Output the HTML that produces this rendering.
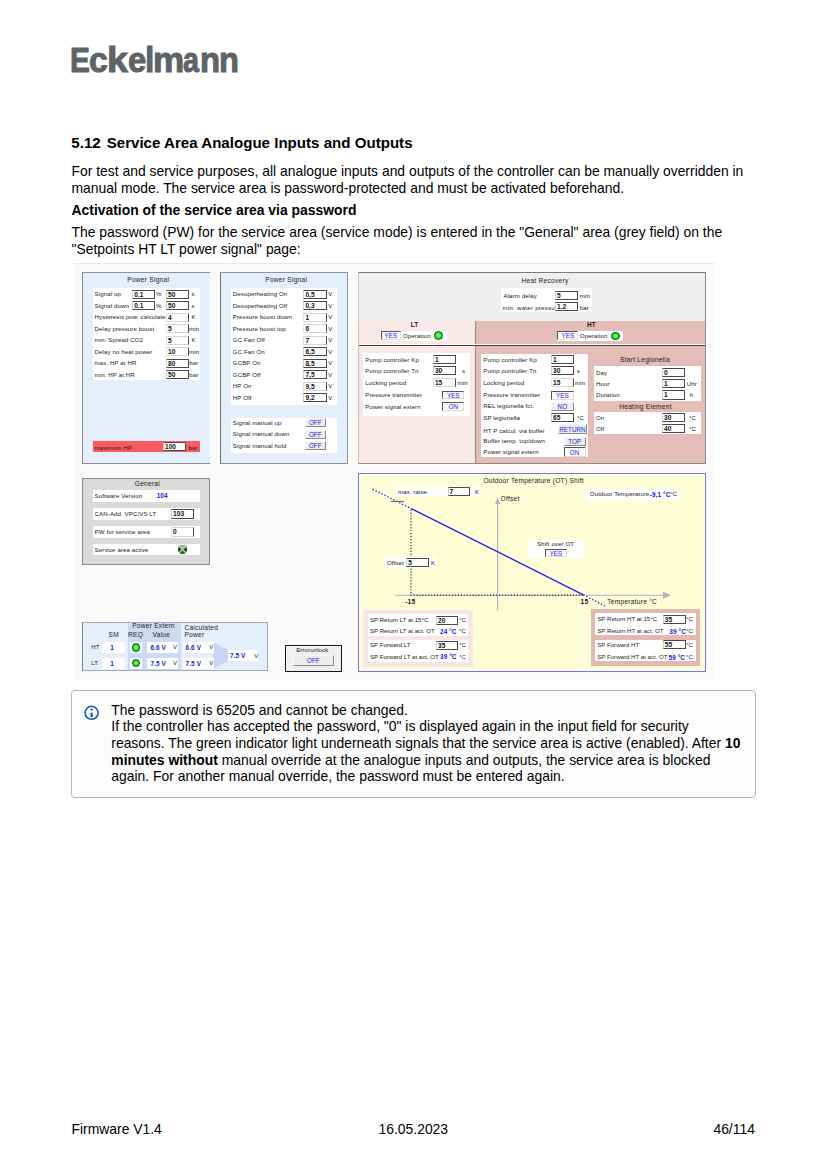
<!DOCTYPE html>
<html><head><meta charset="utf-8"><title>Service Area Analogue Inputs and Outputs</title>
<style>
*{margin:0;padding:0;box-sizing:border-box}
html,body{width:827px;height:1169px;background:#fff;overflow:hidden}
body{position:relative;font-family:"Liberation Sans",sans-serif;color:#000}
.p{position:absolute;white-space:nowrap;line-height:1;color:#000}
.t{position:absolute;white-space:nowrap;line-height:1;color:#1a1a1a;letter-spacing:0.1px}
.tt{letter-spacing:0.25px}
.b{position:absolute}
.inp{position:absolute;background:#fff;border-top:1px solid #d6d6d6;border-left:1px solid #e2e2e2;border-right:1px solid #4a4a4a;border-bottom:1px solid #d6d6d6;font-size:6.6px;font-weight:bold;line-height:1;padding:1px 0 0 1px;white-space:nowrap;overflow:hidden}
.inp.d{border-top:1px solid #4a4a4a;border-left:1px solid #cfcfcf;border-right:1px solid #4a4a4a;border-bottom:1px solid #4a4a4a}
.btn{position:absolute;background:#ececec;border-top:1px solid #f8f8f8;border-left:1px solid #f8f8f8;border-right:1px solid #888;border-bottom:1px solid #888;font-size:6.3px;color:#1c1cf0;text-align:center;line-height:1;padding-top:1.3px;white-space:nowrap;overflow:hidden}
.btn.pr{background:#fafafa;border-top:1px solid #555;border-left:1px solid #555;border-right:1px solid #ddd;border-bottom:1px solid #ddd}
.led{position:absolute;border-radius:50%;background:radial-gradient(circle at 50% 50%,#a9efa0 0,#3ef03e 38%,#12e412 62%,#0cc00c 80%,#0a7a0a 100%);border:0.8px solid #0b520b}
</style></head><body>

<div class="p" style="left:69.51px;top:43.01px;font-size:35.9px;font-weight:bold;color:#5e6367;-webkit-text-stroke:1.0px #5e6367;transform-origin:0 0;transform:scaleX(0.8292)">E</div>
<div class="p" style="left:89.49px;top:43.01px;font-size:35.9px;font-weight:bold;color:#5e6367;-webkit-text-stroke:1.0px #5e6367;transform-origin:0 0;transform:scaleX(0.9361)">c</div>
<div class="p" style="left:106.97px;top:43.01px;font-size:35.9px;font-weight:bold;color:#5e6367;-webkit-text-stroke:1.0px #5e6367;transform-origin:0 0;transform:scaleX(1.0467)">k</div>
<div class="p" style="left:127.92px;top:43.01px;font-size:35.9px;font-weight:bold;color:#5e6367;-webkit-text-stroke:1.0px #5e6367;transform-origin:0 0;transform:scaleX(0.9112)">e</div>
<div class="p" style="left:145.15px;top:43.01px;font-size:35.9px;font-weight:bold;color:#5e6367;-webkit-text-stroke:1.0px #5e6367;transform-origin:0 0;transform:scaleX(0.9353)">l</div>
<div class="p" style="left:153.08px;top:43.01px;font-size:35.9px;font-weight:bold;color:#5e6367;-webkit-text-stroke:1.0px #5e6367;transform-origin:0 0;transform:scaleX(0.9773)">m</div>
<div class="p" style="left:182.87px;top:43.01px;font-size:35.9px;font-weight:bold;color:#5e6367;-webkit-text-stroke:1.0px #5e6367;transform-origin:0 0;transform:scaleX(0.7996)">a</div>
<div class="p" style="left:200.03px;top:43.01px;font-size:35.9px;font-weight:bold;color:#5e6367;-webkit-text-stroke:1.0px #5e6367;transform-origin:0 0;transform:scaleX(0.9170)">n</div>
<div class="p" style="left:218.54px;top:43.01px;font-size:35.9px;font-weight:bold;color:#5e6367;-webkit-text-stroke:1.0px #5e6367;transform-origin:0 0;transform:scaleX(0.9112)">n</div>
<div class="p" style="left:71.3px;top:134.62px;font-size:15.1px;font-weight:bold;">5.12</div>
<div class="p" style="left:106.7px;top:134.62px;font-size:15.1px;font-weight:bold;">Service Area Analogue Inputs and Outputs</div>
<div class="p" style="left:71.5px;top:165.03px;font-size:13.9px;">For test and service purposes, all analogue inputs and outputs of the controller can be manually overridden in</div>
<div class="p" style="left:71.5px;top:181.63px;font-size:13.9px;">manual mode. The service area is password-protected and must be activated beforehand.</div>
<div class="p" style="left:71.5px;top:204.03px;font-size:13.9px;font-weight:bold;">Activation of the service area via password</div>
<div class="p" style="left:71.5px;top:226.23px;font-size:13.9px;">The password (PW) for the service area (service mode) is entered in the "General" area (grey field) on the</div>
<div class="p" style="left:71.5px;top:242.83px;font-size:13.9px;">"Setpoints HT LT power signal" page:</div>
<div class="b" style="left:73.0px;top:263.0px;width:641.0px;height:418.0px;background:#fafafa;border-top:1px solid #e8e8e8"></div>
<div class="b" style="left:82.0px;top:272.0px;width:128.0px;height:191.5px;background:#e5effb;border-left:1px solid #7f8894;border-top:1px solid #8a929c;border-bottom:1px solid #8a8a8a"></div>
<div class="t tt" style="left:148.2px;top:277.01px;font-size:6.6px;transform:translateX(-50%);">Power Signal</div>
<div class="b" style="left:93.0px;top:288.0px;width:106.5px;height:92.0px;background:#fff;"></div>
<div class="t" style="left:94.6px;top:291.24px;font-size:6.1px;">Signal up</div>
<div class="inp d" style="left:132.2px;top:289.5px;width:22.4px;height:9.0px;color:#111">0.1</div>
<div class="t" style="left:156.0px;top:291.24px;font-size:6.1px;">%</div>
<div class="inp d" style="left:166.0px;top:289.5px;width:23.0px;height:9.0px;color:#111">50</div>
<div class="t" style="left:191.4px;top:291.24px;font-size:6.1px;">s</div>
<div class="t" style="left:94.6px;top:302.74px;font-size:6.1px;">Signal down</div>
<div class="inp d" style="left:132.2px;top:301.0px;width:22.4px;height:9.0px;color:#111">0.1</div>
<div class="t" style="left:156.0px;top:302.74px;font-size:6.1px;">%</div>
<div class="inp d" style="left:166.0px;top:301.0px;width:23.0px;height:9.0px;color:#111">50</div>
<div class="t" style="left:191.4px;top:302.74px;font-size:6.1px;">s</div>
<div class="t" style="left:94.6px;top:314.24px;font-size:6.1px;">Hysteresis pow. calculate</div>
<div class="inp" style="left:166.0px;top:312.5px;width:23.0px;height:9.0px;color:#111">4</div>
<div class="t" style="left:191.4px;top:314.24px;font-size:6.1px;">K</div>
<div class="t" style="left:94.6px;top:325.74px;font-size:6.1px;">Delay pressure boost</div>
<div class="inp" style="left:166.0px;top:324.0px;width:23.0px;height:9.0px;color:#111">5</div>
<div class="t" style="left:189.2px;top:325.74px;font-size:6.1px;">min</div>
<div class="t" style="left:94.6px;top:337.24px;font-size:6.1px;">min. Spread CO2</div>
<div class="inp" style="left:166.0px;top:335.5px;width:23.0px;height:9.0px;color:#111">5</div>
<div class="t" style="left:191.4px;top:337.24px;font-size:6.1px;">K</div>
<div class="t" style="left:94.6px;top:348.74px;font-size:6.1px;">Delay no heat power</div>
<div class="inp" style="left:166.0px;top:347.0px;width:23.0px;height:9.0px;color:#111">10</div>
<div class="t" style="left:189.2px;top:348.74px;font-size:6.1px;">min</div>
<div class="t" style="left:94.6px;top:360.24px;font-size:6.1px;">max. HP at HR</div>
<div class="inp d" style="left:166.0px;top:358.5px;width:23.0px;height:9.0px;color:#111">80</div>
<div class="t" style="left:189.2px;top:360.24px;font-size:6.1px;">bar</div>
<div class="t" style="left:94.6px;top:371.74px;font-size:6.1px;">min. HP at HR</div>
<div class="inp d" style="left:166.0px;top:370.0px;width:23.0px;height:9.0px;color:#111">50</div>
<div class="t" style="left:189.2px;top:371.74px;font-size:6.1px;">bar</div>
<div class="b" style="left:93.0px;top:441.3px;width:106.7px;height:10.5px;background:#f95b61;"></div>
<div class="t" style="left:94.6px;top:444.54px;font-size:6.1px;">maximum HP</div>
<div class="inp d" style="left:163.0px;top:442.0px;width:23.0px;height:9.0px;color:#111">100</div>
<div class="t" style="left:188.6px;top:444.54px;font-size:6.1px;">bar</div>
<div class="b" style="left:220.0px;top:272.0px;width:128.0px;height:191.5px;background:#e5effb;border-left:1px solid #6f7780;border-top:1px solid #8a929c;border-bottom:1px solid #8a8a8a;border-right:1px solid #8a96a5"></div>
<div class="t tt" style="left:286.2px;top:277.01px;font-size:6.6px;transform:translateX(-50%);">Power Signal</div>
<div class="b" style="left:231.0px;top:288.0px;width:106.0px;height:116.7px;background:#fff;"></div>
<div class="t" style="left:232.8px;top:291.34px;font-size:6.1px;">Desuperheating On</div>
<div class="inp d" style="left:303.4px;top:289.6px;width:23.3px;height:9.0px;color:#111">0,5</div>
<div class="t" style="left:328.2px;top:291.34px;font-size:6.1px;">V</div>
<div class="t" style="left:232.8px;top:302.84px;font-size:6.1px;">Desuperheating Off</div>
<div class="inp d" style="left:303.4px;top:301.1px;width:23.3px;height:9.0px;color:#111">0,3</div>
<div class="t" style="left:328.2px;top:302.84px;font-size:6.1px;">V</div>
<div class="t" style="left:232.8px;top:314.34px;font-size:6.1px;">Pressure boost down</div>
<div class="inp" style="left:303.4px;top:312.6px;width:23.3px;height:9.0px;color:#111">1</div>
<div class="t" style="left:328.2px;top:314.34px;font-size:6.1px;">V</div>
<div class="t" style="left:232.8px;top:325.84px;font-size:6.1px;">Pressure boost top</div>
<div class="inp" style="left:303.4px;top:324.1px;width:23.3px;height:9.0px;color:#111">6</div>
<div class="t" style="left:328.2px;top:325.84px;font-size:6.1px;">V</div>
<div class="t" style="left:232.8px;top:337.34px;font-size:6.1px;">GC Fan Off</div>
<div class="inp" style="left:303.4px;top:335.6px;width:23.3px;height:9.0px;color:#111">7</div>
<div class="t" style="left:328.2px;top:337.34px;font-size:6.1px;">V</div>
<div class="t" style="left:232.8px;top:348.84px;font-size:6.1px;">GC Fan On</div>
<div class="inp d" style="left:303.4px;top:347.1px;width:23.3px;height:9.0px;color:#111">6,5</div>
<div class="t" style="left:328.2px;top:348.84px;font-size:6.1px;">V</div>
<div class="t" style="left:232.8px;top:360.34px;font-size:6.1px;">GCBP On</div>
<div class="inp d" style="left:303.4px;top:358.6px;width:23.3px;height:9.0px;color:#111">8,5</div>
<div class="t" style="left:328.2px;top:360.34px;font-size:6.1px;">V</div>
<div class="t" style="left:232.8px;top:371.84px;font-size:6.1px;">GCBP Off</div>
<div class="inp d" style="left:303.4px;top:370.1px;width:23.3px;height:9.0px;color:#111">7,5</div>
<div class="t" style="left:328.2px;top:371.84px;font-size:6.1px;">V</div>
<div class="t" style="left:232.8px;top:383.34px;font-size:6.1px;">HP On</div>
<div class="inp" style="left:303.4px;top:381.6px;width:23.3px;height:9.0px;color:#111">9,5</div>
<div class="t" style="left:328.2px;top:383.34px;font-size:6.1px;">V</div>
<div class="t" style="left:232.8px;top:394.84px;font-size:6.1px;">HP Off</div>
<div class="inp d" style="left:303.4px;top:393.1px;width:23.3px;height:9.0px;color:#111">9,2</div>
<div class="t" style="left:328.2px;top:394.84px;font-size:6.1px;">V</div>
<div class="b" style="left:231.0px;top:417.8px;width:106.0px;height:35.1px;background:#fff;"></div>
<div class="t" style="left:232.8px;top:419.94px;font-size:6.1px;">Signal manual up</div>
<div class="btn" style="left:304.9px;top:418.2px;width:20.7px;height:9.2px">OFF</div>
<div class="t" style="left:232.8px;top:431.44px;font-size:6.1px;">Signal manual down</div>
<div class="btn" style="left:304.9px;top:429.7px;width:20.7px;height:9.2px">OFF</div>
<div class="t" style="left:232.8px;top:442.94px;font-size:6.1px;">Signal manual hold</div>
<div class="btn" style="left:304.9px;top:441.2px;width:20.7px;height:9.2px">OFF</div>
<div class="b" style="left:358.0px;top:271.8px;width:348.0px;height:191.8px;background:#efefef;border:1px solid #8a8a8a;border-top-color:#7a7a7a;border-left-color:#c4c4c4"></div>
<div class="t tt" style="left:545.0px;top:277.51px;font-size:6.6px;transform:translateX(-50%);">Heat Recovery</div>
<div class="b" style="left:501.0px;top:288.3px;width:91.0px;height:24.1px;background:#fff;"></div>
<div class="t" style="left:503.5px;top:292.84px;font-size:6.1px;">Alarm delay</div>
<div class="t" style="left:502.6px;top:304.74px;font-size:6.1px;letter-spacing:0.25px">min. water pressure</div>
<div class="inp d" style="left:555.0px;top:291.2px;width:23.0px;height:9.0px;color:#111">5</div>
<div class="inp d" style="left:555.0px;top:302.2px;width:23.0px;height:9.0px;color:#111">1.2</div>
<div class="t" style="left:579.8px;top:292.84px;font-size:6.1px;">min</div>
<div class="t" style="left:579.8px;top:304.54px;font-size:6.1px;">bar</div>
<div class="b" style="left:358.5px;top:320.6px;width:116.8px;height:142.0px;background:#f8e8e8;"></div>
<div class="b" style="left:475.3px;top:320.6px;width:229.7px;height:142.0px;background:#e4bdb6;"></div>
<div class="b" style="left:475.0px;top:320.6px;width:1.0px;height:142.0px;background:#8a8a8a;"></div>
<div class="b" style="left:358.5px;top:344.3px;width:346.5px;height:0.6px;background:#ffffff;"></div>
<div class="b" style="left:358.5px;top:344.9px;width:346.5px;height:1.3px;background:#404040;"></div>
<div class="t" style="left:414.5px;top:321.98px;font-size:6.4px;font-weight:bold;transform:translateX(-50%);">LT</div>
<div class="t" style="left:591.3px;top:321.98px;font-size:6.4px;font-weight:bold;transform:translateX(-50%);">HT</div>
<div class="b" style="left:380.0px;top:331.0px;width:67.5px;height:9.5px;background:#fff;"></div>
<div class="btn pr" style="left:380.5px;top:331.2px;width:20.7px;height:9.2px">YES</div>
<div class="t" style="left:403.0px;top:332.64px;font-size:6.1px;">Operation</div>
<div class="led" style="left:434.2px;top:330.9px;width:8.9px;height:8.9px"></div>
<div class="b" style="left:557.0px;top:331.0px;width:66.0px;height:9.5px;background:#fff;"></div>
<div class="btn pr" style="left:557.4px;top:331.2px;width:20.8px;height:9.2px">YES</div>
<div class="t" style="left:579.8px;top:332.64px;font-size:6.1px;">Operation</div>
<div class="led" style="left:610.9px;top:331.5px;width:8.8px;height:8.8px"></div>
<div class="b" style="left:363.3px;top:353.3px;width:107.1px;height:62.4px;background:#fff;"></div>
<div class="t" style="left:365.3px;top:356.64px;font-size:6.1px;">Pump controller Kp</div>
<div class="inp d" style="left:432.9px;top:354.7px;width:22.7px;height:9.2px;color:#111">1</div>
<div class="t" style="left:365.3px;top:368.24px;font-size:6.1px;">Pump controller Tn</div>
<div class="inp d" style="left:432.9px;top:366.3px;width:22.7px;height:9.2px;color:#111">30</div>
<div class="t" style="left:462.0px;top:368.24px;font-size:6.1px;">s</div>
<div class="t" style="left:365.3px;top:379.94px;font-size:6.1px;">Locking period</div>
<div class="inp" style="left:432.9px;top:378.0px;width:22.7px;height:9.2px;color:#111">15</div>
<div class="t" style="left:457.5px;top:379.94px;font-size:6.1px;">min</div>
<div class="t" style="left:365.3px;top:392.34px;font-size:6.1px;">Pressure transmitter</div>
<div class="btn pr" style="left:442.2px;top:390.7px;width:22.1px;height:8.8px">YES</div>
<div class="t" style="left:365.3px;top:404.34px;font-size:6.1px;">Power signal extern</div>
<div class="btn pr" style="left:442.2px;top:402.2px;width:22.1px;height:9.2px">ON</div>
<div class="b" style="left:481.3px;top:353.5px;width:106.8px;height:103.5px;background:#fff;"></div>
<div class="t" style="left:483.3px;top:356.54px;font-size:6.1px;">Pump controller Kp</div>
<div class="t" style="left:483.3px;top:367.94px;font-size:6.1px;">Pump controller Tn</div>
<div class="t" style="left:483.3px;top:379.54px;font-size:6.1px;">Locking period</div>
<div class="t" style="left:483.3px;top:392.24px;font-size:6.1px;">Pressure transmitter</div>
<div class="t" style="left:483.3px;top:403.24px;font-size:6.1px;">REL legionella fct.</div>
<div class="t" style="left:483.3px;top:414.84px;font-size:6.1px;">SP legionella</div>
<div class="t" style="left:483.3px;top:427.54px;font-size:6.1px;">HT P calcul. via buffer</div>
<div class="t" style="left:483.3px;top:438.34px;font-size:6.1px;">Buffer temp. top/down</div>
<div class="t" style="left:483.3px;top:449.24px;font-size:6.1px;">Power signal extern</div>
<div class="inp d" style="left:551.0px;top:354.6px;width:23.0px;height:9.2px;color:#111">1</div>
<div class="inp d" style="left:551.0px;top:366.0px;width:23.0px;height:9.2px;color:#111">30</div>
<div class="t" style="left:576.7px;top:367.94px;font-size:6.1px;">s</div>
<div class="inp" style="left:551.0px;top:377.6px;width:23.0px;height:9.2px;color:#111">15</div>
<div class="t" style="left:575.0px;top:379.54px;font-size:6.1px;">min</div>
<div class="btn pr" style="left:551.1px;top:390.5px;width:22.5px;height:9.0px">YES</div>
<div class="btn" style="left:551.1px;top:402.1px;width:22.5px;height:9.0px">NO</div>
<div class="inp d" style="left:551.0px;top:413.3px;width:23.0px;height:9.1px;color:#111">65</div>
<div class="t" style="left:577.0px;top:414.84px;font-size:6.1px;">°C</div>
<div class="btn" style="left:558.3px;top:424.3px;width:28.3px;height:9.4px">RETURN</div>
<div class="btn" style="left:563.5px;top:437.0px;width:22.2px;height:9.0px">TOP</div>
<div class="btn pr" style="left:563.5px;top:447.4px;width:22.2px;height:9.6px">ON</div>
<div class="t tt" style="left:645.0px;top:357.01px;font-size:6.6px;transform:translateX(-50%);">Start Legionella</div>
<div class="b" style="left:593.8px;top:366.3px;width:107.1px;height:34.7px;background:#fff;"></div>
<div class="t" style="left:596.0px;top:369.64px;font-size:6.1px;">Day</div>
<div class="inp d" style="left:662.0px;top:367.7px;width:22.7px;height:9.2px;color:#111">0</div>
<div class="t" style="left:596.0px;top:380.94px;font-size:6.1px;">Hour</div>
<div class="inp d" style="left:662.0px;top:379.0px;width:22.7px;height:9.2px;color:#111">1</div>
<div class="t" style="left:686.7px;top:380.94px;font-size:6.1px;">Uhr</div>
<div class="t" style="left:596.0px;top:392.34px;font-size:6.1px;">Duration</div>
<div class="inp d" style="left:662.0px;top:390.4px;width:22.7px;height:9.2px;color:#111">1</div>
<div class="t" style="left:689.5px;top:392.34px;font-size:6.1px;">h</div>
<div class="t tt" style="left:645.5px;top:403.71px;font-size:6.6px;transform:translateX(-50%);">Heating Element</div>
<div class="b" style="left:593.8px;top:411.8px;width:107.1px;height:22.7px;background:#fff;"></div>
<div class="t" style="left:596.0px;top:414.84px;font-size:6.1px;">On</div>
<div class="inp d" style="left:662.0px;top:412.9px;width:22.7px;height:9.2px;color:#111">30</div>
<div class="t" style="left:689.0px;top:414.84px;font-size:6.1px;">°C</div>
<div class="t" style="left:596.0px;top:425.84px;font-size:6.1px;">Off</div>
<div class="inp d" style="left:662.0px;top:423.9px;width:22.7px;height:9.2px;color:#111">40</div>
<div class="t" style="left:689.0px;top:425.84px;font-size:6.1px;">°C</div>
<div class="b" style="left:82.2px;top:478.4px;width:127.5px;height:86.4px;background:#dadada;border:1px solid #8a8a8a"></div>
<div class="t tt" style="left:147.4px;top:481.11px;font-size:6.6px;transform:translateX(-50%);">General</div>
<div class="b" style="left:92.9px;top:490.3px;width:107.0px;height:11.8px;background:#fff;"></div>
<div class="b" style="left:92.9px;top:508.1px;width:107.0px;height:11.6px;background:#fff;"></div>
<div class="b" style="left:92.9px;top:526.2px;width:107.0px;height:11.5px;background:#fff;"></div>
<div class="b" style="left:92.9px;top:544.0px;width:107.0px;height:11.3px;background:#fff;"></div>
<div class="t" style="left:94.6px;top:493.24px;font-size:6.1px;">Software Version</div>
<div class="t" style="left:156.7px;top:493.28px;font-size:6.4px;color:#1515e0;font-weight:bold;">104</div>
<div class="t" style="left:94.6px;top:511.04px;font-size:6.1px;">CAN-Add. VPC/VS LT</div>
<div class="inp d" style="left:171.1px;top:509.2px;width:22.9px;height:9.4px;color:#111">103</div>
<div class="t" style="left:94.6px;top:529.14px;font-size:6.1px;">PW for service area</div>
<div class="inp" style="left:171.1px;top:527.2px;width:22.9px;height:9.4px;color:#111">0</div>
<div class="t" style="left:94.6px;top:546.94px;font-size:6.1px;">Service area active</div>
<svg style="position:absolute;left:177px;top:544.1px" width="11" height="11" viewBox="0 0 11 11"><circle cx="5.5" cy="5.5" r="4.6" fill="#0c5c0c"/><path d="M5.5 5.5L2.3 2.3A4.6 4.6 0 0 1 8.7 2.3Z" fill="#8ccc8c"/><path d="M5.5 5.5L8.7 8.7A4.6 4.6 0 0 1 2.3 8.7Z" fill="#0f7a12"/><path d="M2.2 2.2L8.8 8.8M8.8 2.2L2.2 8.8" stroke="#c9c9c9" stroke-width="1.3"/></svg>
<div class="b" style="left:82.4px;top:621.5px;width:185.9px;height:49.6px;background:#e5effb;border:1px solid #a0aab8;border-left-color:#7c8490"></div>
<div class="b" style="left:127.6px;top:622.5px;width:53.2px;height:47.6px;background:#ccdbf4;"></div>
<div class="t tt" style="left:153.5px;top:622.81px;font-size:6.6px;transform:translateX(-50%);">Power Extern</div>
<div class="t tt" style="left:113.8px;top:632.11px;font-size:6.6px;transform:translateX(-50%);">SM</div>
<div class="t tt" style="left:135.6px;top:632.11px;font-size:6.6px;transform:translateX(-50%);">REQ</div>
<div class="t tt" style="left:161.4px;top:632.11px;font-size:6.6px;transform:translateX(-50%);">Value</div>
<div class="t tt" style="left:184.4px;top:625.41px;font-size:6.6px;">Calculated</div>
<div class="t tt" style="left:184.4px;top:631.91px;font-size:6.6px;">Power</div>
<svg style="position:absolute;left:213px;top:641px" width="16" height="29" viewBox="0 0 16 29"><polygon points="0,1 15,9 15,20 0,28" fill="#c6d6f3"/></svg>
<div class="t" style="left:91.3px;top:643.54px;font-size:6.1px;">HT</div>
<div class="b" style="left:101.7px;top:642.1px;width:23.0px;height:10.9px;background:#fff;"></div>
<div class="t" style="left:112.0px;top:645.08px;font-size:6.4px;color:#1515e0;font-weight:bold;transform:translateX(-50%);">1</div>
<div class="b" style="left:129.5px;top:642.1px;width:12.6px;height:10.9px;background:#fff;"></div>
<div class="led" style="left:131.7px;top:643.3px;width:8.4px;height:8.4px"></div>
<div class="b" style="left:146.9px;top:642.1px;width:31.0px;height:10.9px;background:#fff;"></div>
<div class="t" style="left:150.4px;top:645.08px;font-size:6.4px;color:#1515e0;font-weight:bold;">6.6 V</div>
<div class="t" style="left:173.0px;top:643.54px;font-size:6.1px;">V</div>
<div class="b" style="left:182.7px;top:642.1px;width:31.2px;height:10.9px;background:#fff;"></div>
<div class="t" style="left:185.6px;top:645.08px;font-size:6.4px;color:#1515e0;font-weight:bold;">6.6 V</div>
<div class="t" style="left:209.2px;top:643.54px;font-size:6.1px;">V</div>
<div class="t" style="left:91.3px;top:659.74px;font-size:6.1px;">LT</div>
<div class="b" style="left:101.7px;top:658.0px;width:23.0px;height:10.7px;background:#fff;"></div>
<div class="t" style="left:112.0px;top:661.28px;font-size:6.4px;color:#1515e0;font-weight:bold;transform:translateX(-50%);">1</div>
<div class="b" style="left:129.5px;top:658.0px;width:12.6px;height:10.7px;background:#fff;"></div>
<div class="led" style="left:131.7px;top:659.1px;width:8.4px;height:8.4px"></div>
<div class="b" style="left:146.9px;top:658.0px;width:31.0px;height:10.7px;background:#fff;"></div>
<div class="t" style="left:150.4px;top:661.28px;font-size:6.4px;color:#1515e0;font-weight:bold;">7.5 V</div>
<div class="t" style="left:173.0px;top:659.74px;font-size:6.1px;">V</div>
<div class="b" style="left:182.7px;top:658.0px;width:31.2px;height:10.7px;background:#fff;"></div>
<div class="t" style="left:185.6px;top:661.28px;font-size:6.4px;color:#1515e0;font-weight:bold;">7.5 V</div>
<div class="t" style="left:209.2px;top:659.74px;font-size:6.1px;">V</div>
<div class="b" style="left:228.0px;top:650.0px;width:30.2px;height:11.0px;background:#fff;"></div>
<div class="t" style="left:229.9px;top:652.98px;font-size:6.4px;color:#1515e0;font-weight:bold;">7.5 V</div>
<div class="t" style="left:254.2px;top:652.74px;font-size:6.1px;">V</div>
<div class="b" style="left:285.1px;top:644.9px;width:57.2px;height:26.8px;background:#efefef;border:1.3px solid #151515;box-shadow:inset 1px 1px 0 #fff"></div>
<div class="t" style="left:312.3px;top:647.14px;font-size:6.1px;transform:translateX(-50%);">Errorunlock</div>
<div class="btn" style="left:293.0px;top:655.4px;width:40.8px;height:10.3px">OFF</div>
<div class="b" style="left:358.0px;top:473.4px;width:347.8px;height:198.6px;background:#fdfdd6;border:1px solid #7474f2"></div>
<div class="t tt" style="left:483.4px;top:477.61px;font-size:6.6px;">Outdoor Temperature (OT) Shift</div>
<svg style="position:absolute;left:0;top:0" width="827" height="1169" viewBox="0 0 827 1169">
<line x1="395" y1="595.2" x2="665" y2="595.2" stroke="#b2b2c4" stroke-width="1.1"/>
<polygon points="671,595.2 663,591.7 663,598.7" fill="#b0b0b8"/>
<line x1="497.6" y1="503" x2="497.6" y2="610" stroke="#b0b0c2" stroke-width="1.1"/>
<polygon points="497.6,497 495,504 500.2,504" fill="#b4b4c6"/>
<line x1="410.5" y1="595.2" x2="583" y2="595.2" stroke="#303030" stroke-width="1.2" stroke-dasharray="1.2 1.75"/>
<line x1="411" y1="509.5" x2="411" y2="595" stroke="#303030" stroke-width="1.2" stroke-dasharray="1.2 1.75"/>
<line x1="391" y1="501.4" x2="404" y2="501.4" stroke="#505050" stroke-width="0.9"/>
<line x1="372.6" y1="489.2" x2="411.3" y2="508.6" stroke="#2a2aee" stroke-width="1.3" stroke-dasharray="1.4 1.9"/>
<line x1="411.3" y1="508.6" x2="583.3" y2="594.8" stroke="#2222ee" stroke-width="1.3"/>
<line x1="583.3" y1="594.8" x2="605.5" y2="606.4" stroke="#2a2aee" stroke-width="1.3" stroke-dasharray="1.4 1.9"/>
</svg>
<div class="b" style="left:396.4px;top:486.5px;width:83.8px;height:9.8px;background:#fff;"></div>
<div class="t" style="left:398.0px;top:489.14px;font-size:6.1px;">max. raise</div>
<div class="inp d" style="left:447.5px;top:487.2px;width:22.9px;height:8.6px;color:#111">7</div>
<div class="t" style="left:475.0px;top:489.14px;font-size:6.1px;">K</div>
<div class="t tt" style="left:500.6px;top:496.31px;font-size:6.6px;">Offset</div>
<div class="b" style="left:586.2px;top:489.1px;width:93.6px;height:10.9px;background:#fff;"></div>
<div class="t" style="left:589.8px;top:491.34px;font-size:6.1px;">Outdoor Temperature</div>
<div class="t" style="left:649.7px;top:491.88px;font-size:6.4px;color:#1515e0;font-weight:bold;">-9,1 °C</div>
<div class="t" style="left:670.2px;top:491.34px;font-size:6.1px;">°C</div>
<div class="b" style="left:527.8px;top:539.8px;width:55.8px;height:18.5px;background:#fff;"></div>
<div class="t" style="left:555.5px;top:540.64px;font-size:6.1px;transform:translateX(-50%);">Shift over OT</div>
<div class="btn pr" style="left:545.2px;top:548.5px;width:21.4px;height:8.7px">YES</div>
<div class="b" style="left:385.2px;top:557.3px;width:50.8px;height:10.5px;background:#fff;"></div>
<div class="t" style="left:387.0px;top:559.94px;font-size:6.1px;">Offset</div>
<div class="inp d" style="left:406.3px;top:558.1px;width:22.5px;height:9.4px;color:#111">5</div>
<div class="t" style="left:430.9px;top:559.94px;font-size:6.1px;">K</div>
<div class="t tt" style="left:410.3px;top:599.11px;font-size:6.6px;font-weight:bold;transform:translateX(-50%);">-15</div>
<div class="t tt" style="left:584.4px;top:599.11px;font-size:6.6px;font-weight:bold;transform:translateX(-50%);">15</div>
<div class="t tt" style="left:607.3px;top:599.01px;font-size:6.6px;">Temperature °C</div>
<div class="b" style="left:363.3px;top:609.6px;width:109.9px;height:57.1px;background:#f6e6e6;"></div>
<div class="b" style="left:368.0px;top:614.4px;width:100.2px;height:21.8px;background:#fff;"></div>
<div class="b" style="left:368.0px;top:639.5px;width:100.2px;height:22.4px;background:#fff;"></div>
<div class="t" style="left:370.0px;top:616.74px;font-size:6.1px;letter-spacing:0">SP Return LT at 15°C</div>
<div class="inp d" style="left:436.0px;top:615.5px;width:22.4px;height:9.1px;color:#111">20</div>
<div class="t" style="left:458.9px;top:616.74px;font-size:6.1px;">°C</div>
<div class="t" style="left:370.0px;top:628.24px;font-size:6.1px;letter-spacing:0">SP Return LT at act. OT</div>
<div class="t" style="left:440.0px;top:628.98px;font-size:6.4px;color:#1515e0;font-weight:bold;">24 °C</div>
<div class="t" style="left:458.9px;top:628.24px;font-size:6.1px;">°C</div>
<div class="t" style="left:370.0px;top:642.44px;font-size:6.1px;letter-spacing:0">SP Forward LT</div>
<div class="inp d" style="left:436.0px;top:640.5px;width:22.4px;height:9.1px;color:#111">35</div>
<div class="t" style="left:458.9px;top:642.44px;font-size:6.1px;">°C</div>
<div class="t" style="left:370.0px;top:653.74px;font-size:6.1px;letter-spacing:0">SP Forward LT at act. OT</div>
<div class="t" style="left:440.0px;top:654.48px;font-size:6.4px;color:#1515e0;font-weight:bold;">39 °C</div>
<div class="t" style="left:458.9px;top:653.74px;font-size:6.1px;">°C</div>
<div class="b" style="left:591.0px;top:609.0px;width:108.8px;height:56.6px;background:#e2b8b0;"></div>
<div class="b" style="left:595.3px;top:613.3px;width:101.2px;height:21.8px;background:#fff;"></div>
<div class="b" style="left:595.3px;top:639.5px;width:101.2px;height:21.7px;background:#fff;"></div>
<div class="t" style="left:597.3px;top:616.34px;font-size:6.1px;letter-spacing:0">SP Return HT at 15°C</div>
<div class="inp d" style="left:662.8px;top:614.6px;width:22.8px;height:9.2px;color:#111">35</div>
<div class="t" style="left:685.9px;top:616.34px;font-size:6.1px;">°C</div>
<div class="t" style="left:597.3px;top:627.84px;font-size:6.1px;letter-spacing:0">SP Return HT at act. OT</div>
<div class="t" style="left:669.3px;top:628.58px;font-size:6.4px;color:#1515e0;font-weight:bold;">39 °C</div>
<div class="t" style="left:685.9px;top:627.84px;font-size:6.1px;">°C</div>
<div class="t" style="left:597.3px;top:642.34px;font-size:6.1px;letter-spacing:0">SP Forward HT</div>
<div class="inp d" style="left:662.8px;top:640.3px;width:22.8px;height:9.2px;color:#111">55</div>
<div class="t" style="left:685.9px;top:642.34px;font-size:6.1px;">°C</div>
<div class="t" style="left:597.3px;top:653.84px;font-size:6.1px;letter-spacing:0">SP Forward HT at act. OT</div>
<div class="t" style="left:668.5px;top:654.58px;font-size:6.4px;color:#1515e0;font-weight:bold;">59 °C</div>
<div class="t" style="left:685.9px;top:653.84px;font-size:6.1px;">°C</div>
<div class="b" style="left:71.4px;top:689.8px;width:684.2px;height:108.2px;border:1.3px solid #a9b8ca;border-radius:4px;background:#fcfcfc"></div>
<svg style="position:absolute;left:84px;top:704.6px" width="16" height="16" viewBox="0 0 16 16"><circle cx="7.6" cy="7.8" r="6.5" fill="none" stroke="#1b5cae" stroke-width="1.6"/><ellipse cx="7.65" cy="4.6" rx="1.3" ry="1.05" fill="#1b5cae"/><rect x="6.45" y="7.4" width="2.4" height="4.9" rx="1.1" fill="#1b5cae"/></svg>
<div class="p" style="left:111.3px;top:703.63px;font-size:13.9px;">The password is 65205 and cannot be changed.</div>
<div class="p" style="left:111.3px;top:720.23px;font-size:13.9px;">If the controller has accepted the password, "0" is displayed again in the input field for security</div>
<div class="p" style="left:111.3px;top:736.93px;font-size:13.9px;">reasons. The green indicator light underneath signals that the service area is active (enabled). After <b>10</b></div>
<div class="p" style="left:111.3px;top:753.63px;font-size:13.9px;"><b>minutes without</b> manual override at the analogue inputs and outputs, the service area is blocked</div>
<div class="p" style="left:111.3px;top:770.33px;font-size:13.9px;">again. For another manual override, the password must be entered again.</div>
<div class="p" style="left:71.5px;top:1123.23px;font-size:13.9px;">Firmware V1.4</div>
<div class="p" style="left:413.3px;top:1123.23px;font-size:13.9px;transform:translateX(-50%);">16.05.2023</div>
<div class="p" style="left:754.9000000000001px;top:1123.23px;font-size:13.9px;transform:translateX(-100%);">46/114</div>
</body></html>
